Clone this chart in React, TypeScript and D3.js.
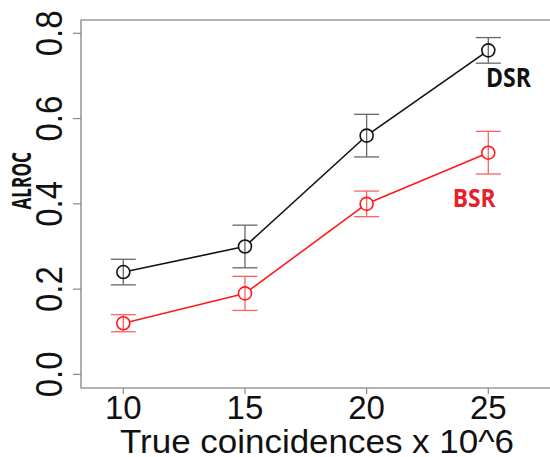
import * as d3 from "d3";

const coincidences = [10, 15, 20, 25];
const dsrMean = [0.24, 0.3, 0.56, 0.76];
const dsrLow = [0.21, 0.25, 0.51, 0.73];
const dsrHigh = [0.27, 0.35, 0.61, 0.79];
const bsrMean = [0.12, 0.19, 0.4, 0.52];
const bsrLow = [0.1, 0.15, 0.37, 0.47];
const bsrHigh = [0.14, 0.23, 0.43, 0.57];
const xTicks = [10, 15, 20, 25];
const yTicks = [0, 0.2, 0.4, 0.6, 0.8];

const W = 550;
const H = 457;
const box = { left: 81, top: 20, bottom: 388 };

const x = d3.scaleLinear().domain([10, 25]).range([123.3, 488.3]);
const y = d3.scaleLinear().domain([0, 0.8]).range([374.4, 33.3]);

const R = 6.5;
const CAP = 12.5;

interface Series {
  mean: number[];
  low: number[];
  high: number[];
  line: string;
  bar: string;
}

function SeriesMarks({ s }: { s: Series }) {
  const pts = coincidences.map((c, i) => [x(c), y(s.mean[i])] as [number, number]);
  // type="b" style: segments stop at circle edge
  const segs = d3.pairs(pts).map(([a, b], i) => {
    const dx = b[0] - a[0];
    const dy = b[1] - a[1];
    const len = Math.hypot(dx, dy);
    const ux = dx / len;
    const uy = dy / len;
    return (
      <line
        key={i}
        x1={a[0] + ux * R}
        y1={a[1] + uy * R}
        x2={b[0] - ux * R}
        y2={b[1] - uy * R}
        stroke={s.line}
        strokeWidth={1.6}
      />
    );
  });
  return (
    <g>
      {coincidences.map((c, i) => (
        <g key={"e" + i} stroke={s.bar} strokeWidth={1.3}>
          <line x1={x(c)} x2={x(c)} y1={y(s.low[i])} y2={y(s.high[i])} />
          <line x1={x(c) - CAP} x2={x(c) + CAP} y1={y(s.low[i])} y2={y(s.low[i])} />
          <line x1={x(c) - CAP} x2={x(c) + CAP} y1={y(s.high[i])} y2={y(s.high[i])} />
        </g>
      ))}
      {segs}
      {pts.map((p, i) => (
        <circle key={"c" + i} cx={p[0]} cy={p[1]} r={R} fill="none" stroke={s.line} strokeWidth={1.6} />
      ))}
    </g>
  );
}

export default function App() {
  const dsr: Series = { mean: dsrMean, low: dsrLow, high: dsrHigh, line: "#111111", bar: "#666666" };
  const bsr: Series = { mean: bsrMean, low: bsrLow, high: bsrHigh, line: "#ff1a1a", bar: "#ff6060" };
  const sans = "'Liberation Sans', Arial, sans-serif";

  return (
    <svg
      width={W}
      height={H}
      style={{ position: "absolute", left: 0, top: 0, background: "#fff" }}
      fontFamily={sans}
    >
      {/* plot frame (right side runs off the crop) */}
      <path
        d={`M${W + 5},${box.top}H${box.left}V${box.bottom}H${W + 5}`}
        fill="none"
        stroke="#9a9a9a"
        strokeWidth={1.6}
      />

      {/* y axis */}
      {yTicks.map((t) => (
        <g key={t}>
          <line x1={box.left - 8} x2={box.left} y1={y(t)} y2={y(t)} stroke="#888" strokeWidth={1.2} />
          <text
            transform={`translate(61.5,${y(t)}) rotate(-90) scale(1,1.12)`}
            textAnchor="middle"
            fontSize={33}
            fill="#111"
          >
            {t.toFixed(1)}
          </text>
        </g>
      ))}

      {/* x axis */}
      {xTicks.map((t) => (
        <g key={t}>
          <line x1={x(t)} x2={x(t)} y1={box.bottom} y2={box.bottom + 6} stroke="#888" strokeWidth={1.2} />
          <text x={x(t)} y={419.3} textAnchor="middle" fontSize={33} fill="#111">
            {t}
          </text>
        </g>
      ))}

      <text x={120} y={452.5} fontSize={33} fill="#111" textLength={394} lengthAdjust="spacingAndGlyphs">
        True coincidences x 10^6
      </text>

      <text
        transform="translate(30.5,209.5) rotate(-90)"
        fontFamily="'Open Sans', sans-serif"
        fontWeight="bold"
        fontSize={26.5}
        fill="#111"
        textLength={57.5}
        lengthAdjust="spacingAndGlyphs"
      >
        ALROC
      </text>

      <SeriesMarks s={dsr} />
      <SeriesMarks s={bsr} />

      <text
        x={486}
        y={87.3}
        fontFamily="'Open Sans', sans-serif"
        fontWeight="bold"
        fontSize={26.5}
        fill="#111"
        textLength={45}
        lengthAdjust="spacingAndGlyphs"
      >
        DSR
      </text>
      <text
        x={452.7}
        y={207.4}
        fontFamily="'Open Sans', sans-serif"
        fontWeight="bold"
        fontSize={24.5}
        fill="#e8202a"
        textLength={43}
        lengthAdjust="spacingAndGlyphs"
      >
        BSR
      </text>
    </svg>
  );
}
